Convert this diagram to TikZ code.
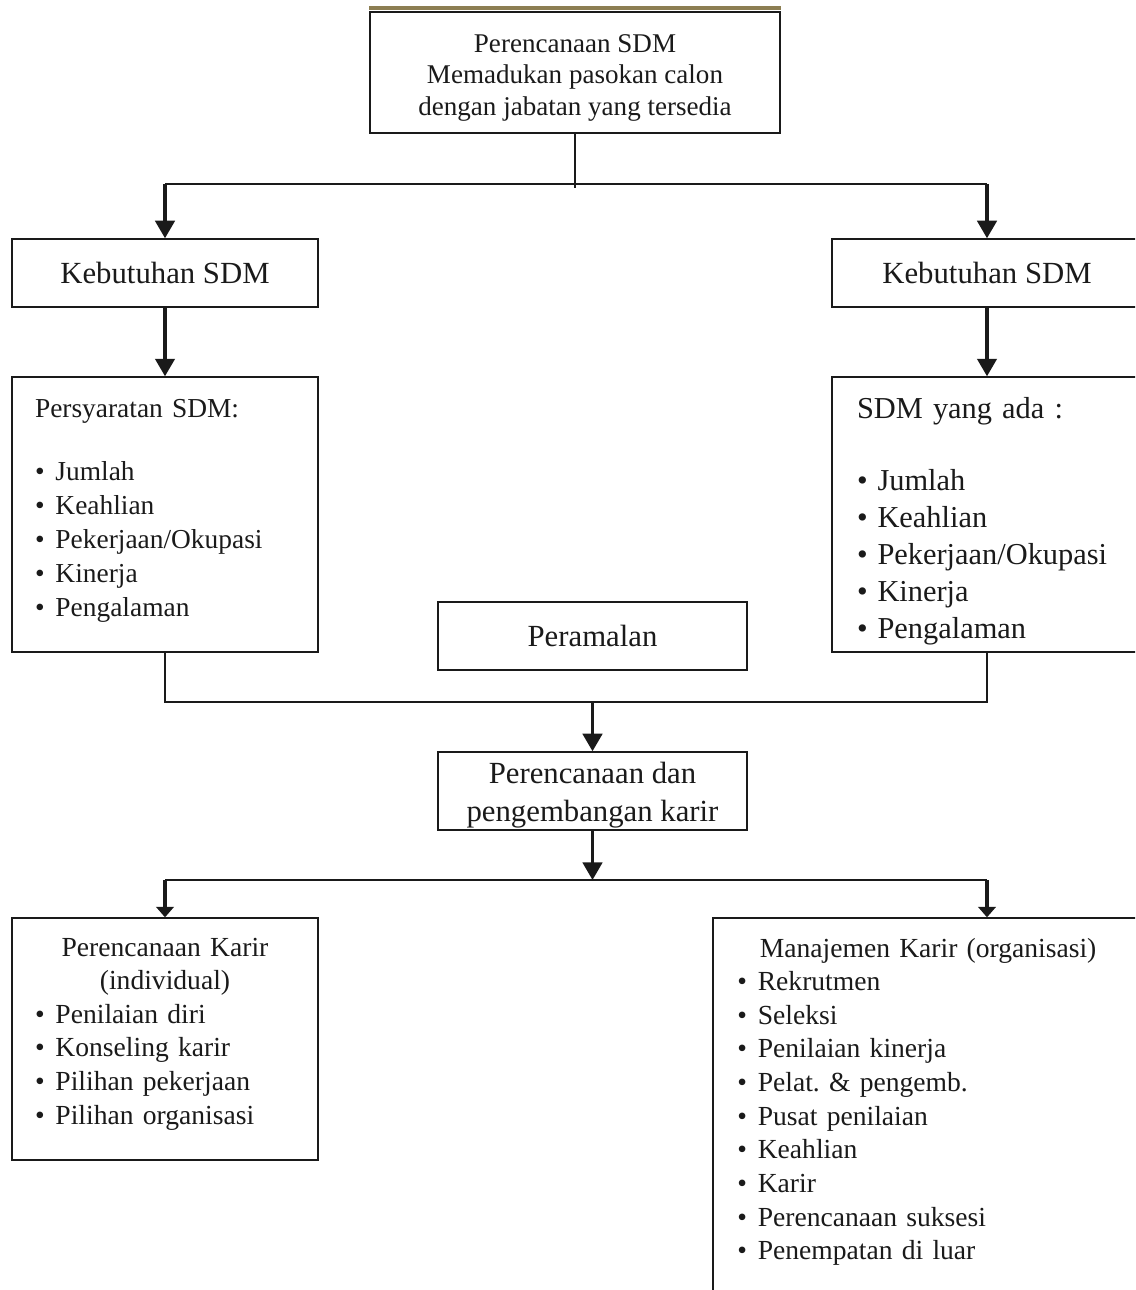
\documentclass[tikz,border=0pt]{standalone}
\usepackage{fontspec}
\setmainfont{Liberation Serif}
\usetikzlibrary{positioning,arrows.meta,calc}
\definecolor{ink}{HTML}{1A1A1A}
\definecolor{headbar}{HTML}{8C7E52}
\newcommand{\bul}{\makebox[0.41cm][l]{\textbullet}}
\newcommand{\drop}[1]{\rule{0pt}{#1}}
\newcommand{\lift}[1]{\rule[-#1]{0pt}{0pt}}

\begin{document}
\begin{tikzpicture}[
  x=0.02cm, y=-0.02cm,
  >={Triangle[width=11pt,length=10pt]},
  every node/.style={inner sep=0pt,text=ink},
  box/.style={draw=ink,line width=0.8pt,align=center,font=\fontsize{17.5pt}{21.6pt}\selectfont},
  listbox/.style={draw=ink,line width=0.8pt,align=left,inner xsep=0.46cm},
  edge/.style={->,draw=ink,line width=2pt},
  stub/.style={-{Triangle[width=10pt,length=6pt]},draw=ink,line width=2pt},
  link/.style={draw=ink,line width=0.8pt}
]
\useasboundingbox (0,0) rectangle (1135,1290);
\clip (0,0) rectangle (1135,1290);

\node[box,minimum width=8.2cm,minimum height=2.42cm,font=\fontsize{15.4pt}{17.9pt}\selectfont] (plan) at (575,72.5)
  {\drop{16pt}Perencanaan SDM\\Memadukan pasokan calon\\dengan jabatan yang tersedia};
\draw[headbar,line width=0.08cm] ([yshift=0.06cm]plan.north west) -- ([yshift=0.06cm]plan.north east);

\node[box,minimum width=6.12cm,minimum height=1.36cm] (needL) at (165,273) {Kebutuhan SDM};
\node[box,minimum width=6.2cm,minimum height=1.36cm] (needR) at (987,273) {Kebutuhan SDM};

\node[listbox,minimum width=6.12cm,minimum height=5.5cm,text width=5.2cm,
  font=\fontsize{15.6pt}{19.35pt}\selectfont] (reqL) at (165,514.5)
  {Persyaratan SDM:\\[16.5pt]
   \bul Jumlah\\ \bul Keahlian\\ \bul Pekerjaan/Okupasi\\ \bul Kinerja\\ \bul Pengalaman\lift{7.9pt}};
\node[listbox,minimum width=6.2cm,minimum height=5.5cm,text width=5.2cm,inner xsep=0.5cm,
  font=\fontsize{17.3pt}{21pt}\selectfont] (hasR) at (987,514.5)
  {\drop{19.4pt}SDM yang ada :\\[20.4pt]
   \bul Jumlah\\ \bul Keahlian\\ \bul Pekerjaan/Okupasi\\ \bul Kinerja\\ \bul Pengalaman};

\node[box,minimum width=6.18cm,minimum height=1.36cm] (forecast) at (592.5,636) {Peramalan};
\node[box,minimum width=6.18cm,minimum height=1.56cm] (career) at (592.5,791)
  {\drop{16.5pt}Perencanaan dan\\pengembangan karir};

\node[listbox,minimum width=6.12cm,minimum height=4.84cm,text width=5.2cm,
  font=\fontsize{15.7pt}{19.1pt}\selectfont] (indiv) at (165,1039)
  {\makebox[\linewidth]{Perencanaan Karir}\\ \makebox[\linewidth]{(individual)}\\
   \bul Penilaian diri\\ \bul Konseling karir\\ \bul Pilihan pekerjaan\\ \bul Pilihan organisasi\lift{9.1pt}};
\node[draw=ink,line width=0.8pt,minimum width=10.96cm,minimum height=8.04cm] (org) at (987,1119) {};
\node[anchor=base west,align=left,text width=8cm,font=\fontsize{15.7pt}{19.15pt}\selectfont] (orgtext) at (737,957)
  {\hspace*{0.45cm}Manajemen Karir (organisasi)\\
   \bul Rekrutmen\\ \bul Seleksi\\ \bul Penilaian kinerja\\ \bul Pelat.\ \& pengemb.\\
   \bul Pusat penilaian\\ \bul Keahlian\\ \bul Karir\\ \bul Perencanaan suksesi\\ \bul Penempatan di luar};

\coordinate (busA) at (575,184);
\coordinate (busB) at (592.5,702);
\coordinate (busC) at (592.5,880);

\draw[link] (plan.south) -- ([yshift=-0.08cm]busA);
\draw[link] (needL.north |- busA) -- (needR.north |- busA);
\draw[edge] (needL.north |- busA) -- (needL.north);
\draw[edge] (needR.north |- busA) -- (needR.north);
\draw[edge] (needL) -- (reqL);
\draw[edge] (needR) -- (hasR);
\draw[link] (reqL.south) -- (reqL.south |- busB) -- (hasR.south |- busB) -- (hasR.south);
\draw[edge] (busB) -- (career.north);
\draw[edge] (career.south) -- (busC);
\draw[link] (indiv.north |- busC) -- (org.north |- busC);
\draw[stub] (indiv.north |- busC) -- (indiv.north);
\draw[stub] (org.north |- busC) -- (org.north);
\end{tikzpicture}
\end{document}
